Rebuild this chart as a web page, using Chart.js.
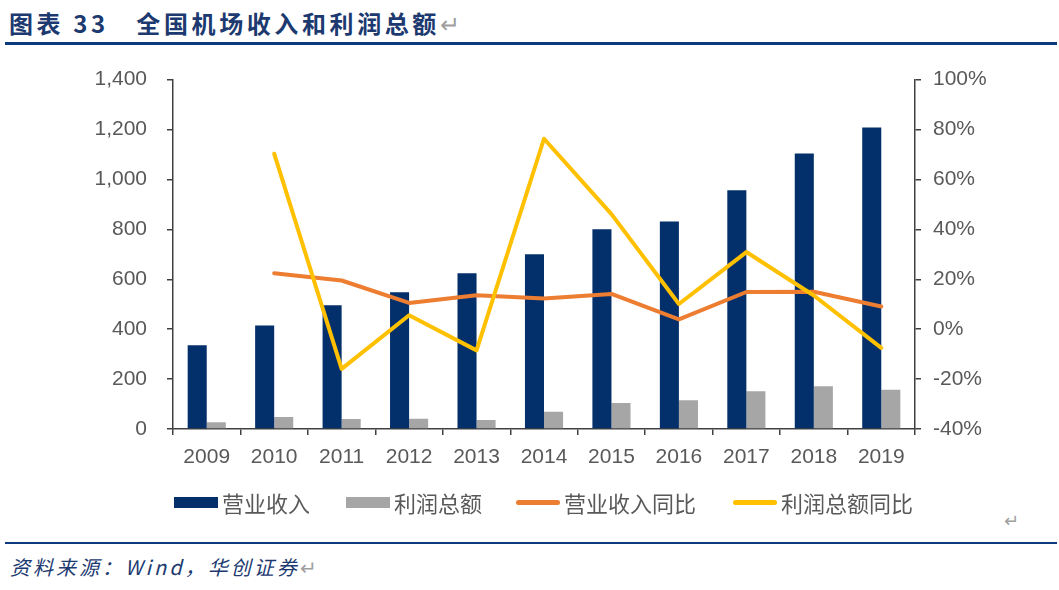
<!DOCTYPE html>
<html lang="zh-CN">
<head>
<meta charset="utf-8">
<script src="https://cdn.jsdelivr.net/npm/chart.js@4.4.1/dist/chart.umd.min.js"></script>
<style>
  html, body { margin: 0; padding: 0; background: #fff; }
  body { width: 1059px; height: 590px; position: relative; overflow: hidden; }
  #titulo {
    position: absolute; left: 9px; top: 5px;
    font-family: "Noto Sans CJK SC", serif; font-weight: bold;
    font-size: 24px; letter-spacing: 3.6px; color: #1c3a70; white-space: nowrap;
  }
  .seta { color: #a0a0a0; font-weight: normal; letter-spacing: 0; font-style: normal; }
  .linha { position: absolute; left: 5px; width: 1052px; background: #0b3a7e; }
  #fonte {
    position: absolute; left: 10px; top: 552px;
    font-family: "Noto Sans CJK SC", serif; font-style: italic;
    font-size: 20px; letter-spacing: 3px; color: #1c3a70; white-space: nowrap;
  }
  #wrap { position: absolute; left: 0; top: 47px; width: 1059px; height: 440px; }
  #legenda { position: absolute; left: 0; top: 487px; width: 1059px; height: 30px; }
  .item { position: absolute; top: 0; height: 30px; display: flex; align-items: center;
    font-family: "Noto Sans CJK SC", sans-serif; font-size: 22px; color: #595959; white-space: nowrap; }
  .marca { width: 44px; margin-right: 4px; }
</style>
</head>
<body>
<div id="titulo">图表 33　全国机场收入和利润总额<span class="seta">↵</span></div>
<div class="linha" style="top:42px;height:3px"></div>
<div id="wrap"><canvas id="grafico" width="1059" height="440"></canvas></div>
<div id="legenda"></div>
<div style="position:absolute;left:1004px;top:510px;font-family:'DejaVu Sans';font-size:18px;color:#a0a0a0">↵</div>
<div class="linha" style="top:542px;height:2px"></div>
<div id="fonte">资料来源：Wind，华创证券<span class="seta">↵</span></div>

<script>
// dados
const anos = ['2009', '2010', '2011', '2012', '2013', '2014', '2015', '2016', '2017', '2018', '2019'];
const receita = [336, 415, 496, 548, 624, 700, 800, 831, 957, 1104, 1208];
const lucro = [27, 48, 40, 41, 36, 69, 104, 115, 151, 171, 157];
const receitaYoY = [null, 22.4, 19.5, 10.5, 13.6, 12.3, 14.1, 3.9, 14.9, 15.0, 9.1];
const lucroYoY = [null, 70.3, -15.9, 5.6, -8.5, 76.3, 46.1, 10.1, 30.9, 13.5, -7.5];

const cores = {
    azul: '#03306a',
    cinza: '#a6a6a6',
    laranja: '#ed7d31',
    amarelo: '#ffc000',
    eixo: '#404040',
    texto: '#595959'
};

const fonteTick = { family: '"Liberation Sans", Arial, sans-serif', size: 21 };

const datasets = [
    { type: 'bar', label: '营业收入', data: receita, backgroundColor: cores.azul, yAxisID: 'y', order: 3 },
    { type: 'bar', label: '利润总额', data: lucro, backgroundColor: cores.cinza, yAxisID: 'y', order: 3 },
    { type: 'line', label: '营业收入同比', data: receitaYoY, borderColor: cores.laranja, yAxisID: 'y1', order: 1 },
    { type: 'line', label: '利润总额同比', data: lucroYoY, borderColor: cores.amarelo, yAxisID: 'y1', order: 0 }
];
datasets.forEach(d => {
    if (d.type === 'bar') {
        d.categoryPercentage = 0.565;
        d.barPercentage = 1.0;
        d.borderWidth = 0;
    } else {
        d.borderWidth = 4;
        d.pointRadius = 0;
        d.tension = 0;
        d.borderCapStyle = 'round';
        d.borderJoinStyle = 'round';
        d.fill = false;
    }
});

const gradeTicks = { drawOnChartArea: false, drawTicks: true, tickLength: 6, color: cores.eixo, lineWidth: 1.5 };
const borda = { display: true, color: cores.eixo, width: 1.5 };

new Chart(document.getElementById('grafico').getContext('2d'), {
    data: { labels: anos, datasets: datasets },
    options: {
        responsive: false,
        animation: false,
        layout: { autoPadding: false, padding: { top: 28, left: 0, right: 0, bottom: 0 } },
        plugins: { legend: { display: false }, tooltip: { enabled: false } },
        scales: {
            x: {
                offset: true,
                grid: Object.assign({ offset: true }, gradeTicks),
                border: borda,
                ticks: { color: cores.texto, font: fonteTick, padding: 10, maxRotation: 0 },
                afterFit: s => { s.height = 58; }
            },
            y: {
                position: 'left',
                min: 0, max: 1400,
                grid: gradeTicks,
                border: borda,
                ticks: {
                    stepSize: 200, color: cores.texto, font: fonteTick, padding: 20,
                    callback: v => v.toLocaleString('en-US')
                },
                afterFit: s => { s.width = 173; }
            },
            y1: {
                position: 'right',
                min: -40, max: 100,
                grid: gradeTicks,
                border: borda,
                ticks: {
                    stepSize: 20, color: cores.texto, font: fonteTick, padding: 12,
                    callback: v => v + '%'
                },
                afterFit: s => { s.width = 144; }
            }
        }
    }
});

// legenda em HTML
const posLegenda = [174, 346, 516, 733];
const leg = document.getElementById('legenda');
datasets.forEach((d, i) => {
    const item = document.createElement('div');
    item.className = 'item';
    item.style.left = posLegenda[i] + 'px';
    const m = document.createElement('span');
    m.className = 'marca';
    if (d.type === 'bar') {
        m.style.height = '11px';
        m.style.background = d.backgroundColor;
    } else {
        m.style.height = '5px';
        m.style.borderRadius = '3px';
        m.style.background = d.borderColor;
    }
    item.appendChild(m);
    item.appendChild(document.createTextNode(d.label));
    leg.appendChild(item);
});
</script>
</body>
</html>
